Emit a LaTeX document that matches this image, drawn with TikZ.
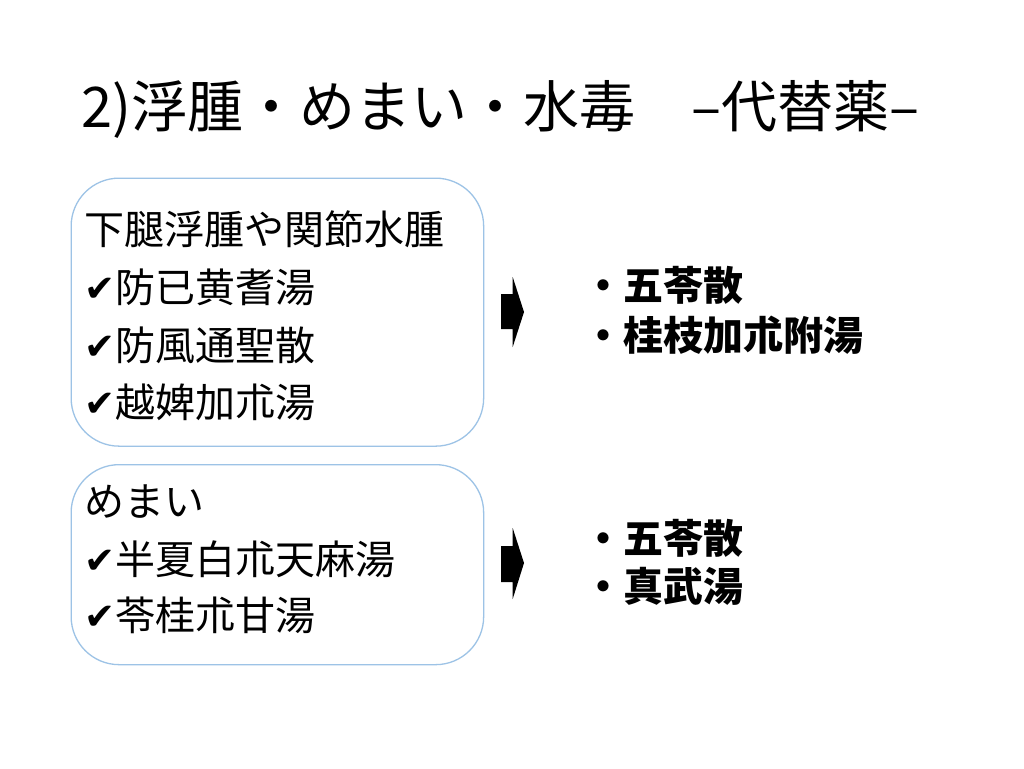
\documentclass[tikz,border=0pt]{standalone}
\usepackage{fontspec}
\setmainfont{Noto Sans CJK JP}
\newfontfamily\dvfont{DejaVu Sans}
\definecolor{boxblue}{RGB}{157,195,230}
\newcommand{\mychk}{{\dvfont\fontsize{37}{37}\selectfont\raisebox{1pt}{✔}}}
\begin{document}
\begin{tikzpicture}[x=1pt,y=-1pt,
  box/.style={draw=boxblue, line width=1.3pt, rounded corners=48pt, anchor=north west, inner sep=0pt},
  body/.style={anchor=west, font=\fontsize{40}{40}\selectfont, inner sep=0pt},
  alt/.style={anchor=west, font=\bfseries\fontsize{40}{40}\selectfont, inner sep=0pt},
  arrowfill/.style={fill=black}]
\useasboundingbox[fill=white] (0,0) rectangle (1024,768);
\node[anchor=west, inner sep=0pt, font=\fontsize{56}{56}\selectfont] (title) at (81,109) {2)浮腫・めまい・水毒　–代替薬–};
% box 1
\node[box, minimum width=412.5pt, minimum height=268pt] (box1) at (70.5,177.5) {};
\node[body] (a1) at (84,229) {下腿浮腫や関節水腫};
\node[body] (a2) at (84,287) {\mychk{}防已黄耆湯};
\node[body] (a3) at (84,345) {\mychk{}防風通聖散};
\node[body] (a4) at (84,402) {\mychk{}越婢加朮湯};
% box 2
\node[box, minimum width=412.5pt, minimum height=200pt] (box2) at (70.5,464) {};
\node[body] (b1) at (84,502) {めまい};
\node[body] (b2) at (84,559) {\mychk{}半夏白朮天麻湯};
\node[body] (b3) at (84,615) {\mychk{}苓桂朮甘湯};
% arrows
\coordinate (arr1) at (501,312);
\coordinate (arr2) at (501,563);
\begin{scope}[shift={(arr1)}]
\fill[arrowfill] (0,-18) -- (11.7,-18) -- (11.7,-35) -- (23,0) -- (11.7,35) -- (11.7,17) -- (0,17) -- cycle;
\end{scope}
\begin{scope}[shift={(arr2)}]
\fill[arrowfill] (0,-17) -- (11.7,-17) -- (11.7,-35) -- (23,0) -- (11.7,36) -- (11.7,19) -- (0,19) -- cycle;
\end{scope}
% alternatives
\node[alt] (c1) at (583,285) {・五苓散};
\node[alt] (c2) at (583,335) {・桂枝加朮附湯};
\node[alt] (d1) at (583,538) {・五苓散};
\node[alt] (d2) at (583,586) {・真武湯};
\end{tikzpicture}
\end{document}
